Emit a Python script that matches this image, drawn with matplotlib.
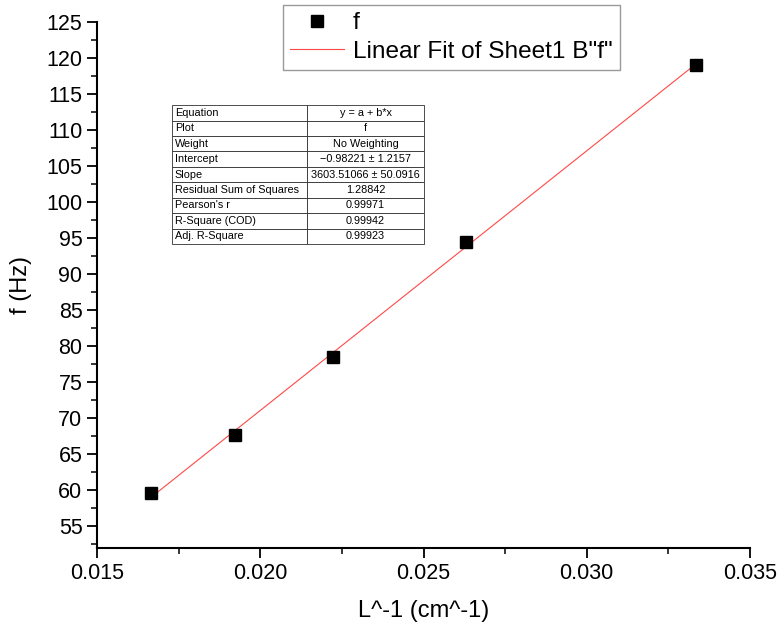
import matplotlib.pyplot as plt
import numpy as np
from matplotlib.ticker import MultipleLocator

plt.rcParams['font.family'] = ['Liberation Sans', 'DejaVu Sans']

# data
inv_length = [1 / 60, 1 / 52, 1 / 45, 1 / 38, 1 / 30]
freq = [59.6, 67.7, 78.5, 94.5, 119.0]

# fit results as printed by the table
intercept = -0.98221
slope = 3603.51066

table_labels = ['Equation', 'Plot', 'Weight', 'Intercept', 'Slope',
                'Residual Sum of Squares', "Pearson's r", 'R-Square (COD)', 'Adj. R-Square']
table_values = ['y = a + b*x', 'f', 'No Weighting', '\u22120.98221 \u00b1 1.2157',
                '3603.51066 \u00b1 50.0916', '1.28842', '0.99971', '0.99942', '0.99923']

fig = plt.figure(figsize=(7.8, 6.32), dpi=100)
ax = fig.add_axes([0.1244, 0.1329, 0.8371, 0.8323])

# fitted line over the data range
x_fit = np.linspace(min(inv_length), max(inv_length), 50)
ax.plot(x_fit, intercept + slope * x_fit, color='#ff4848', lw=0.8,
        label='Linear Fit of Sheet1 B"f"', zorder=2)
ax.plot(inv_length, freq, 's', color='black', markersize=8.5, label='f', zorder=3)

ax.set_xlim(0.015, 0.035)
ax.set_ylim(52, 125)
ax.xaxis.set_major_locator(MultipleLocator(0.005))
ax.xaxis.set_minor_locator(MultipleLocator(0.0025))
ax.yaxis.set_major_locator(MultipleLocator(5))
ax.yaxis.set_minor_locator(MultipleLocator(2.5))
ax.xaxis.set_major_formatter(plt.FormatStrFormatter('%.3f'))

for side in ['top', 'right']:
    ax.spines[side].set_visible(False)
for side in ['left', 'bottom']:
    ax.spines[side].set_linewidth(1.5)
ax.tick_params(which='major', direction='out', length=7, width=1.3, labelsize=15.5)
ax.tick_params(which='minor', direction='out', length=4, width=1.1)

ax.set_xlabel('L^-1 (cm^-1)', fontsize=17, labelpad=12)
ax.set_ylabel('f (Hz)', fontsize=17, labelpad=10)

# legend sits partly above the axes
handles, labels = ax.get_legend_handles_labels()
leg = fig.legend(handles[::-1], labels[::-1], loc='upper left',
                 bbox_to_anchor=(283 / 780, 1 - 5 / 632), fontsize=17.6,
                 frameon=True, fancybox=False, edgecolor='#808080',
                 borderpad=0.3, handlelength=2.2, handletextpad=0.35,
                 labelspacing=0.25, borderaxespad=0)
leg.get_frame().set_linewidth(1.0)

# fit parameter table
cells = [[a, b] for a, b in zip(table_labels, table_values)]
tbl = ax.table(cellText=cells, colWidths=[0.535, 0.465],
               bbox=[0.115, 0.578, 0.386, 0.264], zorder=4)
tbl.auto_set_font_size(False)
tbl.set_fontsize(7.8)
for (r, c), cell in tbl.get_celld().items():
    cell.set_linewidth(0.6)
    cell.set_edgecolor('#303030')
    cell.PAD = 0.02
    cell.get_text().set_ha('left' if c == 0 else 'center')

fig.savefig('out.png', dpi=100)
